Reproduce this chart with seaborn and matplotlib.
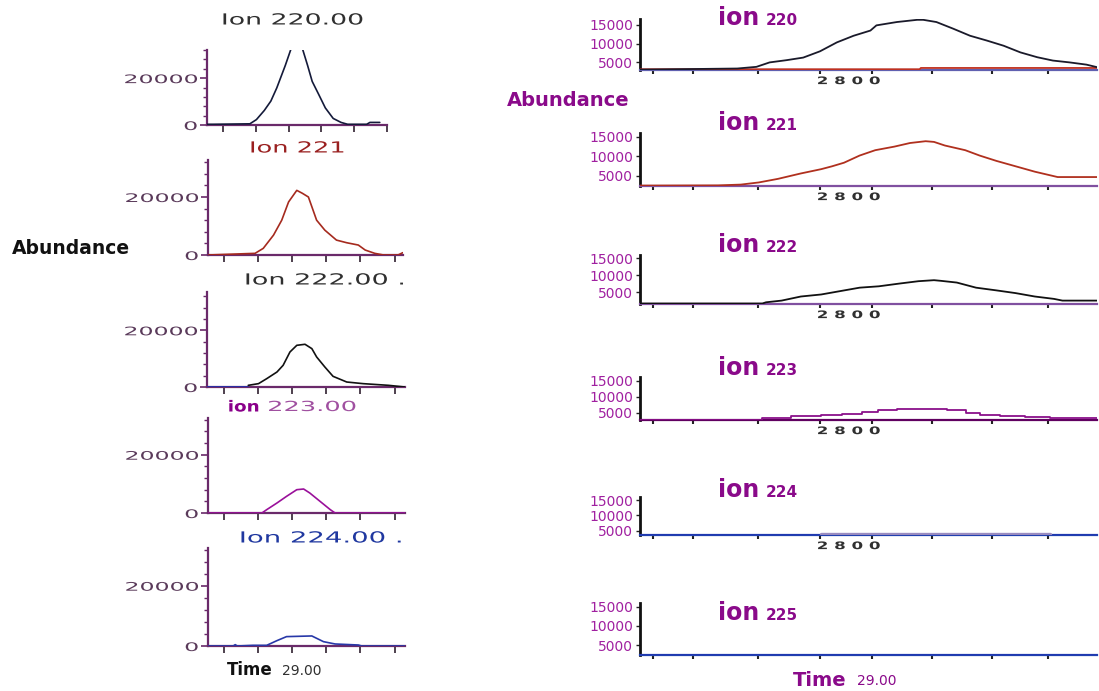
import numpy as np
import pandas as pd
import matplotlib
matplotlib.use("Agg")
import matplotlib.pyplot as plt
import matplotlib.patheffects as pe
from matplotlib.transforms import Affine2D
import seaborn as sns

sns.set_style("white")
plt.rcParams['font.family'] = ['DejaVu Sans']

W, H = 1099, 691

# ------------------------------------------------------------------ data
left_xticks = [28.90, 28.95, 29.00, 29.05, 29.10, 29.15]
left_yticks = [0, 20000]
left_yminor = [0, 4000, 8000, 12000, 16000, 20000, 24000, 28000, 32000]

ion220_t = [28.876, 28.885, 28.941, 28.951, 28.963, 28.973, 28.982, 28.995, 29.013,
            29.029, 29.036, 29.046, 29.056, 29.068, 29.080, 29.090, 29.119, 29.124, 29.139]
ion220_v = [300, 300, 500, 2300, 6200, 10200, 15800, 25400, 40000,
            25400, 18600, 13000, 7300, 2800, 1100, 300, 300, 1100, 1100]

ion221_t = [28.877, 28.946, 28.958, 28.973, 28.985, 28.995, 29.007, 29.015, 29.024, 29.036,
            29.048, 29.065, 29.080, 29.097, 29.107, 29.121, 29.134, 29.155, 29.162]
ion221_v = [0, 570, 2290, 6860, 12000, 18290, 22290, 21300, 20000, 12000,
            8570, 5140, 4230, 3430, 1710, 570, 0, 0, 800]

ion222_blue_t = [28.876, 28.936]
ion222_blue_v = [150, 150]
ion222_t = [28.936, 28.951, 28.963, 28.978, 28.987, 28.997, 29.007, 29.019, 29.029, 29.036,
            29.048, 29.060, 29.080, 29.104, 29.141, 29.165]
ion222_v = [590, 1180, 2940, 5290, 7650, 12350, 14700, 15060, 13530, 10590,
            7060, 3760, 1760, 1180, 590, 0]

ion223_t = [28.877, 28.956, 28.963, 28.978, 28.992, 29.007, 29.017, 29.026, 29.041, 29.056,
            29.063, 29.165]
ion223_v = [0, 0, 1140, 3430, 5710, 8000, 8230, 6860, 4000, 1140, 0, 0]

ion224_t = [28.877, 28.914, 28.917, 28.920, 28.943, 28.963, 28.978, 28.992, 29.029, 29.046,
            29.063, 29.097, 29.102, 29.165]
ion224_v = [0, 0, 440, 0, 220, 220, 1780, 3110, 3330, 1440, 670, 330, 0, 0]

right_xticks = [28.861, 28.894, 28.948, 29.000, 29.043, 29.093, 29.143, 29.190]
right_yticks = [5000, 10000, 15000]

r220_t = [28.850, 28.931, 28.947, 28.958, 28.972, 28.986, 29.000, 29.014, 29.028, 29.042,
          29.047, 29.064, 29.081, 29.086, 29.097, 29.111, 29.125, 29.139, 29.153, 29.167,
          29.181, 29.194, 29.208, 29.222, 29.231]
r220_v = [2950, 3250, 3700, 4900, 5500, 6200, 7900, 10300, 12100, 13500,
          14900, 15800, 16400, 16400, 15800, 14000, 12100, 10800, 9400, 7600,
          6300, 5400, 4900, 4300, 3600]
r220_red_t = [28.850, 29.083, 29.084, 29.231]
r220_red_v = [3050, 3050, 3400, 3400]

r221_t = [28.850, 28.915, 28.934, 28.949, 28.965, 28.984, 29.001, 29.010, 29.020, 29.033,
          29.046, 29.062, 29.075, 29.088, 29.095, 29.104, 29.121, 29.133, 29.147, 29.163,
          29.179, 29.198, 29.231]
r221_v = [2550, 2600, 2800, 3350, 4270, 5650, 6750, 7480, 8400, 10230,
          11600, 12520, 13440, 13900, 13720, 12800, 11600, 10230, 8860, 7480,
          6100, 4730, 4730]

r222_t = [28.850, 28.952, 28.955, 28.968, 28.984, 29.001, 29.017, 29.033, 29.049, 29.066,
          29.082, 29.095, 29.101, 29.114, 29.130, 29.147, 29.163, 29.179, 29.195, 29.202, 29.231]
r222_v = [1650, 1650, 2000, 2500, 3700, 4300, 5300, 6300, 6700, 7500,
          8200, 8500, 8300, 7800, 6300, 5500, 4700, 3700, 3000, 2500, 2500]

r223_t = [28.850, 28.952, 28.976, 29.001, 29.018, 29.035, 29.048, 29.064, 29.106, 29.122,
          29.133, 29.150, 29.171, 29.192, 29.231]
r223_v = [2900, 3300, 4000, 4300, 4800, 5300, 5800, 6300, 5800, 5100,
          4500, 4100, 3800, 3300, 3300]

r224_t = [28.850, 29.231]
r224_v = [3780, 3780]
r224_b_t = [29.001, 29.041, 29.042, 29.127, 29.128, 29.192]
r224_b_v = [3950, 3950, 4150, 4150, 3950, 3950]

r225_t = [28.850, 29.231]
r225_v = [2450, 2450]


# ------------------------------------------------------------------ helpers
class HStretch(pe.AbstractPathEffect):
    def __init__(self, sx, anchor="left"):
        super().__init__()
        self.sx = sx
        self.anchor = anchor

    def draw_path(self, renderer, gc, tpath, affine, rgbFace=None):
        bb = tpath.get_extents(affine)
        if self.anchor == "left":
            x0 = bb.x0
        elif self.anchor == "right":
            x0 = bb.x1
        else:
            x0 = 0.5 * (bb.x0 + bb.x1)
        t = affine + Affine2D().translate(-x0, 0).scale(self.sx, 1).translate(x0, 0)
        renderer.draw_path(gc, tpath, t, rgbFace)


fig = plt.figure(figsize=(W / 100, H / 100), dpi=100)
fig.patch.set_facecolor("white")


def px_axes(x0, y0, x1, y1):
    return fig.add_axes([x0 / W, 1 - y1 / H, (x1 - x0) / W, (y1 - y0) / H])


def ftext(x, y, s, stretch=None, **kw):
    t = fig.text(x / W, 1 - y / H, s, **kw)
    if stretch:
        t.set_path_effects([HStretch(stretch, "left")])
    return t


def line(ax, t, v, color, lw=1.2, **kw):
    df = pd.DataFrame({"t": t, "v": v})
    sns.lineplot(data=df, x="t", y="v", ax=ax, color=color, linewidth=lw,
                 sort=False, estimator=None, zorder=3, **kw)


# ------------------------------------------------------------------ left panels
axis_purple = "#6a2a6a"
left_specs = [
    ((207, 50, 387, 125), (0, 25400), (28.8757, 29.1389)),
    ((208, 160, 403, 255), (0, 32760), (28.8772, 29.1623)),
    ((207, 292, 405, 387), (0, 33500), (28.8757, 29.1652)),
    ((208, 418, 405, 513), (0, 32600), (28.8772, 29.1652)),
    ((208, 548, 405, 646), (0, 32500), (28.8772, 29.1652)),
]
left_series = [
    [(ion220_t, ion220_v, "#141a3a")],
    [(ion221_t, ion221_v, "#a52a1e")],
    [(ion222_blue_t, ion222_blue_v, "#2030b0"), (ion222_t, ion222_v, "#111111")],
    [(ion223_t, ion223_v, "#9a109a")],
    [(ion224_t, ion224_v, "#2838a8")],
]

for (box, ylim, xlim), series in zip(left_specs, left_series):
    ax = px_axes(*box)
    for t, v, c in series:
        line(ax, t, v, c, lw=1.2)
    ax.set_xlim(*xlim)
    ax.set_ylim(*ylim)
    ax.set_facecolor("none")
    for s in ("top", "right"):
        ax.spines[s].set_visible(False)
    for s in ("left", "bottom"):
        ax.spines[s].set_color(axis_purple)
        ax.spines[s].set_linewidth(1.6)
    ax.set_xticks(left_xticks)
    ax.set_xticklabels([])
    ax.set_yticks(left_yticks)
    ax.set_yticks(left_yminor, minor=True)
    ax.set_yticklabels(["0", "20000"])
    ax.tick_params(which="both", bottom=True, left=True)
    ax.tick_params(axis="x", direction="out", length=5, width=1.2, color="#302030")
    ax.tick_params(axis="y", which="major", direction="out", length=5, width=1.2,
                   color=axis_purple, labelsize=8.5, labelcolor="#5a3a5a", pad=2)
    ax.tick_params(axis="y", which="minor", direction="out", length=3, width=1.0,
                   color=axis_purple)
    ax.set_xlabel("")
    ax.set_ylabel("")
    for lbl in ax.get_yticklabels():
        lbl.set_path_effects([HStretch(2.0, "right")])

# left titles
ftext(222, 20, "Ion 220.00", stretch=1.75, fontsize=11, color="#303030", va="center")
ftext(250, 148, "Ion 221", stretch=1.68, fontsize=11, color="#9a2020", va="center")
ftext(245, 280, "Ion 222.00 .", stretch=1.77, fontsize=11, color="#303030", va="center")
ftext(228, 407, "ion", stretch=1.2, fontsize=11, fontweight="bold", color="#8a008a", va="center")
ftext(268, 407, "223.00", stretch=1.85, fontsize=10, color="#a050a0", va="center")
ftext(240, 538, "Ion 224.00 .", stretch=1.8, fontsize=11, color="#2038a0", va="center")

ftext(12, 249, "Abundance", fontsize=13.5, fontweight="bold", color="#111111", va="center")
ftext(227, 670, "Time", fontsize=12, fontweight="bold", color="#111111", va="center")
ftext(282, 671, "29.00", fontsize=10, color="#303030", va="center")

# ------------------------------------------------------------------ right panels
right_xlim = (28.85, 29.2308)
right_specs = [
    ((640, 19, 1097, 70), (2850, 16620), "#6060b0", "220", True),
    ((640, 133, 1097, 186), (2440, 16000), "#8050a0", "221", True),
    ((640, 255, 1097, 304), (1500, 15900), "#8050a0", "222", True),
    ((640, 377, 1097, 420), (2800, 16250), "#600060", "223", True),
    ((640, 497, 1097, 535), (3700, 15970), "#2040b0", "224", True),
    ((640, 603, 1097, 655), (2370, 16050), "#2040b0", "225", False),
]
title_y = [18, 123, 245, 368, 490, 613]

right_series = [
    [(r220_red_t, r220_red_v, "#c03020", 1.3, {}), (r220_t, r220_v, "#1a1a2a", 1.3, {})],
    [(r221_t, r221_v, "#b0301e", 1.3, {})],
    [(r222_t, r222_v, "#111111", 1.3, {})],
    [(r223_t, r223_v, "#8a108a", 1.3, {"drawstyle": "steps-post"})],
    [(r224_t, r224_v, "#2038b0", 1.3, {}),
     (r224_b_t, r224_b_v, "#9a8cc0", 2.4, {"drawstyle": "steps-post"})],
    [(r225_t, r225_v, "#2038b0", 1.3, {})],
]

for (box, ylim, bcol, num, lab), series, ty in zip(right_specs, right_series, title_y):
    ax = px_axes(*box)
    for t, v, c, lw, kw in series:
        line(ax, t, v, c, lw=lw, **kw)
    ax.set_xlim(*right_xlim)
    ax.set_ylim(*ylim)
    ax.set_facecolor("none")
    for s in ("top", "right"):
        ax.spines[s].set_visible(False)
    ax.spines["left"].set_color("#111111")
    ax.spines["left"].set_linewidth(2.0)
    ax.spines["bottom"].set_color(bcol)
    ax.spines["bottom"].set_linewidth(1.6)
    ax.set_xticks(right_xticks)
    ax.set_xticklabels([])
    ax.set_yticks(right_yticks)
    ax.set_yticklabels([f"{v}" for v in right_yticks])
    ax.tick_params(which="both", bottom=True, left=True)
    ax.tick_params(axis="x", direction="out", length=3, width=1.5, color="#222222")
    ax.tick_params(axis="y", direction="out", length=3, width=1.0, color="#222222",
                   labelsize=10, labelcolor="#a020a0", pad=2)
    ax.set_xlabel("")
    ax.set_ylabel("")
    if lab:
        a = ax.annotate("2 8 0 0", xy=(29.0, 0), xycoords=("data", "axes fraction"),
                        xytext=(-2, -8), textcoords="offset points", ha="left", va="center",
                        fontsize=7.5, fontweight="bold", color="#303030")
        a.set_path_effects([HStretch(1.6, "left")])
    # title "ion NNN"
    ftext(718, ty + 7, "ion", fontsize=17, fontweight="bold", color="#8a0a8a", va="baseline")
    ftext(766, ty + 7, num, fontsize=11, fontweight="bold", color="#8a0a8a", va="baseline")

ftext(507, 101, "Abundance", fontsize=14, fontweight="bold", color="#8a0a8a", va="center")
ftext(793, 680, "Time", fontsize=14, fontweight="bold", color="#8a0a8a", va="center")
ftext(857, 681, "29.00", fontsize=10, color="#8a0a8a", va="center")

fig.savefig("out.png", dpi=100, facecolor="white")
